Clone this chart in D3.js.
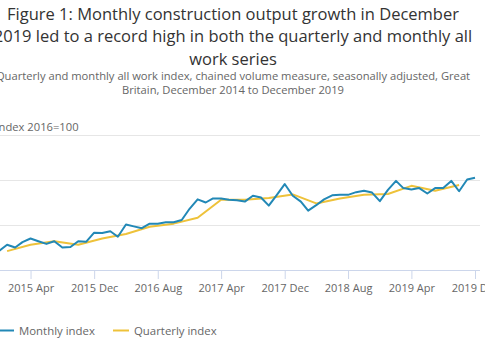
<!DOCTYPE html>
<html>
<head>
<meta charset="utf-8">
<script src="https://cdn.jsdelivr.net/npm/d3@7"></script>
<style>
  html, body { margin: 0; padding: 0; background: #fff; overflow: hidden; }
  svg { display: block; font-family: "Open Sans", sans-serif; }
</style>
</head>
<body>
<svg id="chart" width="485" height="360"></svg>
<script>
// ---- data ----
const titleLines = [
  "Figure 1: Monthly construction output growth in December",
  "2019 led to a record high in both the quarterly and monthly all",
  "work series"
];
const subtitleLines = [
  "Quarterly and monthly all work index, chained volume measure, seasonally adjusted, Great",
  "Britain, December 2014 to December 2019"
];
const yAxisTitle = "Index 2016=100";
const seriesNames = ["Monthly index", "Quarterly index"];

// Monthly index, Dec 2014 .. Dec 2019
const monthlyValues = [
  94.2, 95.6, 95.0, 96.2, 97.0, 96.4, 95.8, 96.4, 95.0, 95.1, 96.4, 96.3,
  98.3, 98.2, 98.6, 97.4, 100.1, 99.7, 99.3, 100.3, 100.3, 100.6, 100.6, 101.1,
  103.6, 105.7, 105.0, 105.9, 105.9, 105.6, 105.5, 105.2, 106.5, 106.1, 104.3, 106.7,
  109.1, 106.5, 105.2, 103.2, 104.4, 105.7, 106.6, 106.7, 106.7, 107.3, 107.6, 107.2,
  105.3, 107.8, 109.8, 108.2, 107.9, 108.2, 107.0, 108.2, 108.2, 109.8, 107.5, 110.1,
  110.5
];
// Quarterly index, plotted at quarter-end months Dec 2014 .. Dec 2019
const quarterlyValues = [
  94.2, 95.6, 96.4, 95.6, 97.0, 98.0, 99.6, 100.3, 101.6, 105.6, 105.6,
  106.0, 106.8, 104.8, 105.9, 106.7, 106.9, 108.7, 107.6, 108.9, 109.5
];
const xTickLabels = ["2015 Apr", "2015 Dec", "2016 Aug", "2017 Apr", "2017 Dec", "2018 Aug", "2019 Apr", "2019 Dec"];
const yTickValues = [90, 100, 110, 120];

// ---- setup ----
const svg = d3.select("#chart");
const start = new Date(2014, 11, 1);
const end = new Date(2019, 11, 1);
const monthDates = d3.timeMonth.range(start, d3.timeMonth.offset(end, 1));
const quarterDates = d3.timeMonth.every(3).range(start, d3.timeMonth.offset(end, 1));
const parseTick = d3.timeParse("%Y %b");
const fmtTick = d3.timeFormat("%Y %b");

const plotLeft = -55, plotRight = 480;
const x = d3.scaleTime().domain([start, end]).range([-1, 475]);
const y = d3.scaleLinear().domain([90, 120]).range([270, 135]);

// titles
svg.append("g").selectAll("text").data(titleLines).join("text")
  .attr("x", 233).attr("y", (d, i) => 19.5 + i * 22.7)
  .attr("text-anchor", "middle")
  .attr("font-size", 16.5).attr("fill", "#333")
  .text(d => d);
svg.append("g").selectAll("text").data(subtitleLines).join("text")
  .attr("x", 233).attr("y", (d, i) => 80 + i * 14.3)
  .attr("text-anchor", "middle")
  .attr("font-size", 11.2).attr("fill", "#666")
  .text(d => d);

svg.append("text").attr("x", -4.5).attr("y", 131)
  .attr("font-size", 11.2).attr("fill", "#666").text(yAxisTitle);

// gridlines (y axis, labels off-canvas)
const yAxis = svg.append("g").attr("transform", `translate(${plotLeft},0)`)
  .call(d3.axisLeft(y).tickValues(yTickValues).tickSize(-(plotRight - plotLeft)).tickPadding(8));
yAxis.select(".domain").remove();
yAxis.selectAll(".tick line").attr("stroke", "#e6e6e6");
yAxis.selectAll(".tick text").attr("fill", "#666").attr("font-size", 11).attr("font-family", "Open Sans");
yAxis.selectAll(".tick").filter(d => d === 90).select("line").remove();

// x axis
const xAxis = svg.append("g").attr("transform", "translate(0,270)")
  .call(d3.axisBottom(x).tickValues(xTickLabels.map(parseTick)).tickFormat(fmtTick).tickSize(9).tickPadding(5));
xAxis.select(".domain").remove();
xAxis.selectAll(".tick line").attr("stroke", "#ccd6eb");
xAxis.selectAll(".tick text").attr("fill", "#666").attr("font-size", 11).attr("font-family", "Open Sans");
xAxis.append("line").attr("x1", plotLeft).attr("x2", plotRight).attr("y1", 0.5).attr("y2", 0.5)
  .attr("stroke", "#ccd6eb");

const colors = ["#2288b6", "#eec23a"];
const line = d3.line().x(d => x(d[0])).y(d => y(d[1]));

svg.append("path")
  .datum(quarterDates.map((d, i) => [d, quarterlyValues[i]]))
  .attr("d", line).attr("fill", "none").attr("stroke", colors[1])
  .attr("stroke-width", 2).attr("stroke-linejoin", "round");
svg.append("path")
  .datum(monthDates.map((d, i) => [d, monthlyValues[i]]))
  .attr("d", line).attr("fill", "none").attr("stroke", colors[0])
  .attr("stroke-width", 2).attr("stroke-linejoin", "round");

// legend
const legendX = [-2, 113];
const lg = svg.append("g").selectAll("g").data(seriesNames).join("g")
  .attr("transform", (d, i) => `translate(${legendX[i]},330.5)`);
lg.append("line").attr("x1", 0).attr("x2", 16).attr("stroke", (d, i) => colors[i]).attr("stroke-width", 2);
lg.append("text").attr("x", 21).attr("y", 4).attr("font-size", 11.4).attr("fill", "#666").text(d => d);
</script>
</body>
</html>
